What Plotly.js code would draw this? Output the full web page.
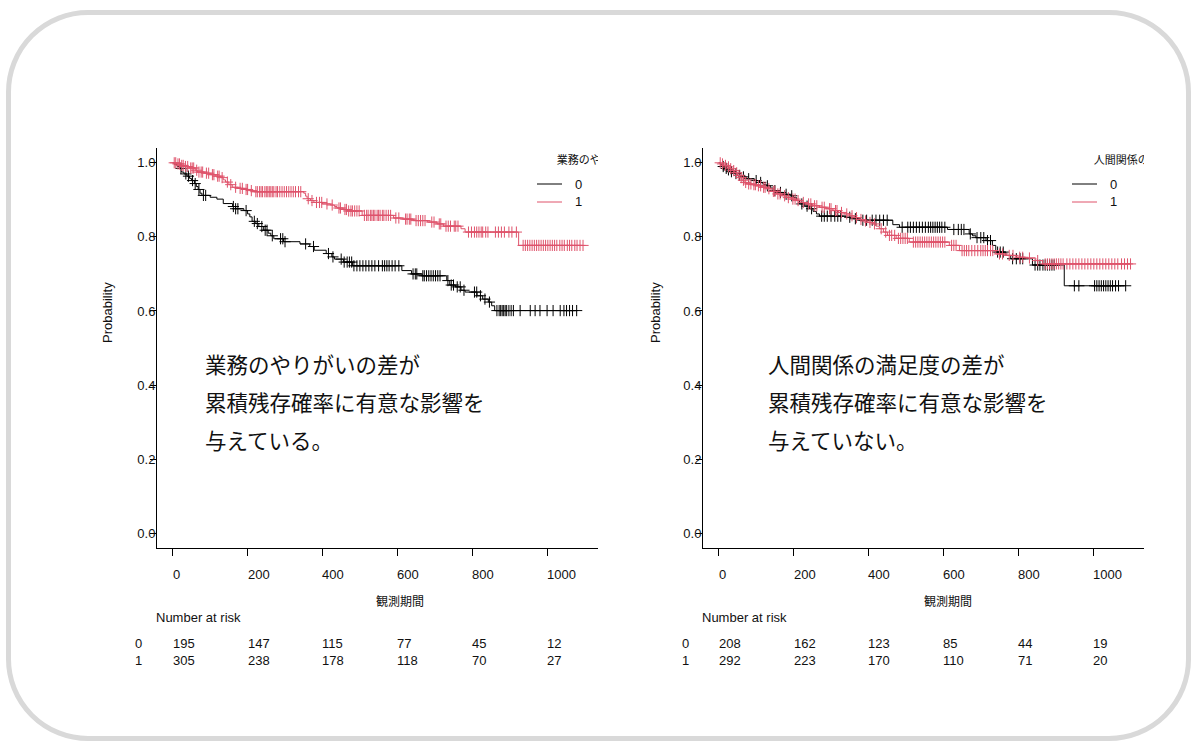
<!DOCTYPE html>
<html>
<head>
<meta charset="utf-8">
<script src="https://cdn.plot.ly/plotly-3.0.1.min.js"></script>
<style>
html,body{margin:0;padding:0;background:#fff;}
#wrap{position:relative;width:1192px;height:742px;overflow:hidden;}
#chart{position:absolute;left:0;top:0;width:1192px;height:742px;}
#frame{position:absolute;left:6px;top:10px;width:1185px;height:731px;box-sizing:border-box;border:5px solid #d9d9d9;border-radius:82px;pointer-events:none;}
</style>
</head>
<body>
<div id="wrap"><div id="chart"></div><div id="frame"></div></div>
<script>
// ---------- axis ticks ----------
const xTicks = [0, 200, 400, 600, 800, 1000];
const xTickLabels = ['0', '200', '400', '600', '800', '1000'];
const yTicks = [0, 0.2, 0.4, 0.6, 0.8, 1.0];
const yTickLabels = ['0.0', '0.2', '0.4', '0.6', '0.8', '1.0'];
const groups = ['0', '1'];

// ---------- left panel: 業務のやりがい ----------
const leftLegendTitle = '業務のやりがい';
const leftNote = ['業務のやりがいの差が', '累積残存確率に有意な影響を', '与えている。'];
const L0_time = [5,12,18,24,30,38,45,50,58,63,68,73,78,100,118,135,160,168,190,200,206,212,222,230,243,255,262,270,296,340,366,378,410,425,432,456,480,612,638,666,732,740,755,770,781,813,828,843,852,860];
const L0_surv = [0.995,0.990,0.985,0.975,0.970,0.964,0.958,0.952,0.944,0.936,0.928,0.918,0.912,0.907,0.902,0.890,0.882,0.876,0.871,0.862,0.854,0.842,0.836,0.828,0.818,0.810,0.803,0.795,0.787,0.781,0.774,0.764,0.755,0.746,0.740,0.732,0.722,0.709,0.700,0.695,0.682,0.670,0.665,0.656,0.651,0.641,0.632,0.624,0.614,0.601];
const L0_censor = [22,35,42,53,60,70,82,88,162,168,174,196,218,226,238,247,252,266,288,294,300,355,376,416,428,450,458,466,472,478,484,492,500,508,516,524,532,540,550,560,566,572,578,586,594,604,642,648,652,668,672,678,684,690,696,702,708,714,735,744,750,760,768,778,806,812,822,834,846,866,872,876,880,884,888,892,898,904,910,928,955,968,981,1000,1016,1035,1045,1052,1060,1068,1079];
const L1_time = [10,20,30,45,60,66,85,101,115,128,135,141,150,159,175,190,205,216,350,355,359,368,377,400,421,432,439,455,466,506,590,615,643,680,706,723,770,781,924];
const L1_surv = [0.997,0.993,0.990,0.986,0.980,0.975,0.972,0.968,0.964,0.960,0.954,0.948,0.941,0.934,0.931,0.928,0.925,0.922,0.918,0.910,0.903,0.898,0.893,0.889,0.886,0.882,0.878,0.874,0.870,0.858,0.851,0.848,0.844,0.840,0.835,0.829,0.822,0.813,0.777];
const L1_censor = [4,8,14,18,24,28,34,40,48,52,56,64,70,76,80,90,96,106,110,120,124,132,146,155,168,180,186,196,200,210,222,226,232,236,240,246,250,254,258,262,266,270,276,280,286,292,298,304,310,316,322,328,336,342,362,372,384,392,398,412,426,444,448,460,464,470,476,480,486,492,498,512,518,522,528,532,536,540,546,550,554,560,564,570,576,582,596,604,622,626,632,636,650,656,662,668,674,692,698,712,716,730,736,742,752,756,762,790,798,806,812,818,824,828,836,842,862,870,878,886,898,906,918,936,942,948,954,960,966,972,978,984,990,996,1002,1008,1014,1020,1026,1034,1040,1046,1054,1060,1066,1074,1080,1088,1096];
const L_risk0 = [195, 147, 115, 77, 45, 12];
const L_risk1 = [305, 238, 178, 118, 70, 27];

// ---------- right panel: 人間関係の満足度 ----------
const rightLegendTitle = '人間関係の満足度';
const rightNote = ['人間関係の満足度の差が', '累積残存確率に有意な影響を', '与えていない。'];
const R0_time = [5,10,16,22,29,40,50,60,74,95,109,118,127,138,145,160,172,190,199,208,216,230,243,252,261,269,340,357,376,465,483,611,669,678,687,714,731,740,767,780,838,923];
const R0_surv = [0.995,0.990,0.985,0.981,0.976,0.971,0.966,0.962,0.957,0.952,0.947,0.942,0.938,0.932,0.925,0.920,0.915,0.911,0.906,0.898,0.889,0.883,0.876,0.869,0.862,0.856,0.853,0.849,0.845,0.833,0.826,0.820,0.808,0.803,0.798,0.790,0.777,0.759,0.750,0.741,0.724,0.668];
const R0_censor = [12,20,26,34,46,56,66,80,100,112,130,150,165,180,195,222,236,248,275,282,290,300,310,318,326,350,365,385,395,410,420,430,440,450,490,505,512,520,528,536,544,552,560,566,572,578,584,590,596,604,628,640,648,655,672,690,700,708,718,726,745,752,760,785,795,805,812,845,852,858,866,872,878,884,890,896,950,962,1004,1010,1016,1022,1028,1034,1040,1046,1052,1060,1068,1087];
const R1_time = [6,14,22,29,36,43,50,56,62,68,74,90,101,115,127,140,154,168,181,194,207,220,234,250,269,287,305,320,335,349,362,375,385,398,412,420,429,440,451,474,509,616,643,740,767,794,820,847,865];
const R1_surv = [0.997,0.993,0.989,0.984,0.979,0.973,0.966,0.960,0.953,0.947,0.943,0.941,0.938,0.934,0.930,0.923,0.916,0.911,0.906,0.902,0.898,0.893,0.889,0.884,0.880,0.876,0.871,0.866,0.862,0.857,0.852,0.847,0.843,0.839,0.835,0.829,0.822,0.813,0.804,0.796,0.786,0.777,0.763,0.754,0.750,0.745,0.743,0.736,0.727];
const R1_censor = [4,10,18,26,32,40,48,54,60,66,72,80,86,94,98,106,112,120,124,134,146,150,158,164,176,186,198,204,212,226,240,246,256,262,276,282,296,300,312,316,328,342,356,368,380,392,404,416,434,446,456,462,470,480,486,492,498,504,520,526,532,538,544,550,556,562,568,574,580,586,592,598,604,622,628,634,650,656,662,668,676,684,692,700,706,712,718,726,732,750,758,776,786,804,812,830,852,872,878,884,890,896,902,908,914,920,930,938,946,954,962,970,978,986,994,1002,1010,1018,1026,1034,1042,1050,1058,1066,1076,1084,1092,1100];
const R_risk0 = [208, 162, 123, 85, 44, 19];
const R_risk1 = [292, 223, 170, 110, 71, 20];

// ---------- styles ----------
const W = 1192, H = 742;
const colors = ['#000000', '#DF536B'];
const latin = 'Liberation Sans, Arial, sans-serif';
const cjk = 'Noto Sans CJK JP, sans-serif';
const txt = '#111111';

function stepAt(t, times, surv) {
  let s = 1;
  for (let i = 0; i < times.length; i++) { if (times[i] <= t) s = surv[i]; else break; }
  return s;
}
function kmTraces(times, surv, censor, color, xa, ya) {
  const end = Math.max(times[times.length - 1], censor[censor.length - 1]);
  const xs = [0].concat(times, [end]);
  const ys = [1].concat(surv, [surv[surv.length - 1]]);
  return [
    {type: 'scatter', mode: 'lines', x: xs, y: ys, xaxis: xa, yaxis: ya,
     line: {shape: 'hv', color: color, width: 1}, hoverinfo: 'skip'},
    {type: 'scatter', mode: 'markers', x: censor, y: censor.map(c => stepAt(c, times, surv)),
     xaxis: xa, yaxis: ya, marker: {symbol: 'cross-thin', size: 8, line: {color: color, width: 1}, color: color},
     hoverinfo: 'skip'}
  ];
}
const px = v => v / W;
const py = v => 1 - v / H;

const traces = [].concat(
  kmTraces(L0_time, L0_surv, L0_censor, colors[0], 'x', 'y'),
  kmTraces(L1_time, L1_surv, L1_censor, colors[1], 'x', 'y'),
  kmTraces(R0_time, R0_surv, R0_censor, colors[0], 'x2', 'y2'),
  kmTraces(R1_time, R1_surv, R1_censor, colors[1], 'x2', 'y2')
);
// legend titles (clipped by plot area, as in original)
traces.push({type: 'scatter', mode: 'text', x: [1026], y: [1.003], text: [leftLegendTitle], textposition: 'middle right',
  textfont: {family: cjk, size: 11, color: txt}, cliponaxis: true, xaxis: 'x', yaxis: 'y', hoverinfo: 'skip'});
traces.push({type: 'scatter', mode: 'text', x: [1002], y: [1.003], text: [rightLegendTitle], textposition: 'middle right',
  textfont: {family: cjk, size: 11, color: txt}, cliponaxis: true, xaxis: 'x2', yaxis: 'y2', hoverinfo: 'skip'});

function xaxisDef(d0, d1, anchor) {
  return {domain: [px(d0), px(d1)], range: [-42, 1136], anchor: anchor, showgrid: false, zeroline: false,
    showline: true, linecolor: '#000', linewidth: 1, ticks: 'outside', ticklen: 7, tickcolor: '#000', tickwidth: 1,
    tickvals: xTicks, showticklabels: false, fixedrange: true};
}
function yaxisDef(anchor) {
  return {domain: [py(548), py(148)], range: [-0.04, 1.04], anchor: anchor, showgrid: false, zeroline: false,
    showline: true, linecolor: '#000', linewidth: 1, ticks: 'outside', ticklen: 6, tickcolor: '#000', tickwidth: 1,
    tickvals: yTicks, ticktext: yTickLabels, tickfont: {family: latin, size: 13, color: txt}, ticklabelstandoff: -8, fixedrange: true};
}

const annotations = [];
const shapes = [];
function panel(xa, axisPx, yTitleX, xTitleX, rowLabelX, legendLineX0, legendLabelX, risk0, risk1, note, noteX) {
  xTicks.forEach((t, i) => {
    annotations.push({xref: xa, yref: 'paper', x: t, y: py(574), xanchor: 'left', yanchor: 'middle', showarrow: false,
      text: xTickLabels[i], font: {family: latin, size: 13, color: txt}, xshift: -2});
    annotations.push({xref: xa, yref: 'paper', x: t, y: py(643), xanchor: 'left', yanchor: 'middle', showarrow: false,
      text: String(risk0[i]), font: {family: latin, size: 13, color: txt}, xshift: -2});
    annotations.push({xref: xa, yref: 'paper', x: t, y: py(660), xanchor: 'left', yanchor: 'middle', showarrow: false,
      text: String(risk1[i]), font: {family: latin, size: 13, color: txt}, xshift: -2});
  });
  annotations.push({xref: 'paper', yref: 'paper', x: px(yTitleX), y: py(313), textangle: -90, showarrow: false,
    text: 'Probability', font: {family: latin, size: 13, color: txt}, xanchor: 'center', yanchor: 'middle'});
  annotations.push({xref: 'paper', yref: 'paper', x: px(xTitleX), y: py(600), showarrow: false,
    text: '観測期間', font: {family: cjk, size: 12, color: txt}, xanchor: 'center', yanchor: 'middle'});
  annotations.push({xref: 'paper', yref: 'paper', x: px(axisPx - 3), y: py(617), showarrow: false, xanchor: 'left', yanchor: 'middle',
    text: 'Number at risk', font: {family: latin, size: 13, color: txt}});
  groups.forEach((g, i) => {
    annotations.push({xref: 'paper', yref: 'paper', x: px(rowLabelX), y: py(643 + 17 * i), showarrow: false, xanchor: 'center', yanchor: 'middle',
      text: g, font: {family: latin, size: 13, color: txt}});
    shapes.push({type: 'line', xref: 'paper', yref: 'paper', x0: px(legendLineX0), x1: px(legendLineX0 + 25),
      y0: py(184 + 18 * i), y1: py(184 + 18 * i), line: {color: colors[i], width: 1}});
    annotations.push({xref: 'paper', yref: 'paper', x: px(legendLabelX), y: py(184 + 18 * i), showarrow: false, xanchor: 'left', yanchor: 'middle',
      text: g, font: {family: latin, size: 13, color: txt}});
  });
  note.forEach((line, i) => {
    annotations.push({xref: 'paper', yref: 'paper', x: px(noteX), y: py(363 + 38 * i), showarrow: false, xanchor: 'left', yanchor: 'middle',
      text: line, font: {family: cjk, size: 21.5, color: txt}});
  });
}
panel('x', 157, 107, 400, 138, 537, 573, L_risk0, L_risk1, leftNote, 203);
panel('x2', 703, 655, 948, 685, 1072, 1108, R_risk0, R_risk1, rightNote, 766);

const layout = {
  width: W, height: H, margin: {l: 0, r: 0, t: 0, b: 0},
  paper_bgcolor: '#ffffff', plot_bgcolor: '#ffffff', showlegend: false,
  xaxis: xaxisDef(157, 598, 'y'), yaxis: yaxisDef('x'),
  xaxis2: xaxisDef(703, 1144, 'y2'), yaxis2: yaxisDef('x2'),
  annotations: annotations, shapes: shapes
};
Plotly.newPlot('chart', traces, layout, {displayModeBar: false, staticPlot: true});
</script>
</body>
</html>
